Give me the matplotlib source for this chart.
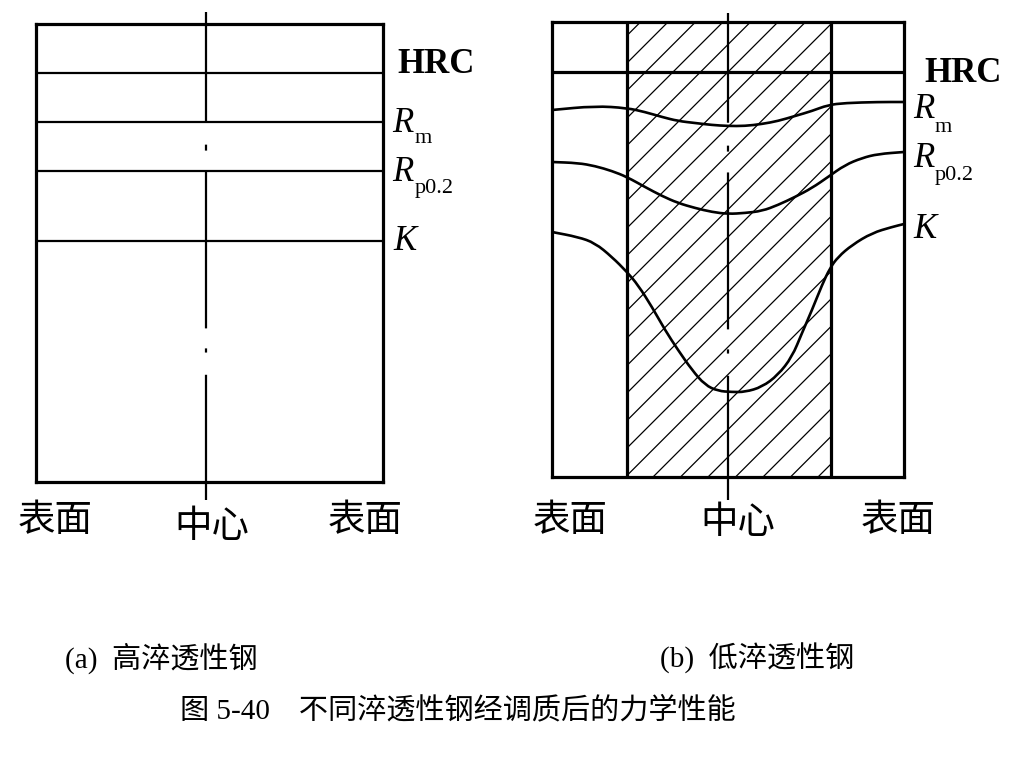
import matplotlib
matplotlib.use("Agg")
import matplotlib.pyplot as plt
from matplotlib.path import Path
from matplotlib.patches import PathPatch
import numpy as np

plt.rcParams['font.family'] = ['Liberation Serif', 'Noto Sans CJK SC']
plt.rcParams['lines.scale_dashes'] = False

# ---------------- data ----------------
# (a) high hardenability steel: flat property levels (relative units, 0 = box bottom)
left_labels = ['HRC', 'Rm', 'Rp0.2', 'K']
left_levels = [409, 360, 311, 241]

# (b) low hardenability steel: position across section (0 = centre) vs. relative level
right_hrc = 405
rm_x = [-176, -133, -101, -83, -66, -50, -33, -16, 0, 17, 34, 50, 67, 84, 100, 117, 150, 176]
rm_y = [367, 371, 369, 365, 360, 356, 354, 352, 351, 351, 353, 356, 361, 366, 372, 374, 375, 375]
rp_x = [-176, -150, -133, -116, -101, -83, -66, -50, -33, -16, 0, 17, 34, 50, 67, 84, 100, 117, 134, 150, 176]
rp_y = [315, 314, 311, 306, 300, 290, 281, 274, 269, 265, 263, 264, 266, 272, 280, 289, 300, 312, 319, 323, 325]
k_x = [-176, -150, -133, -116, -101, -90, -76, -63, -50, -36, -23, -10, 4, 17, 34, 50, 64, 74, 84, 94, 102, 110, 124, 144, 164, 176]
k_y = [245, 240, 234, 220, 205, 192, 170, 147, 127, 107, 92, 86, 85, 85, 90, 102, 120, 144, 167, 192, 209, 220, 232, 244, 250, 253]
core_left, core_right = -101, 103   # unhardened core zone (hatched)

pos_labels = ['表面', '中心', '表面']
sub_captions = ['(a)  高淬透性钢', '(b)  低淬透性钢']
fig_caption = '图 5-40    不同淬透性钢经调质后的力学性能'

# ---------------- figure ----------------
W, H = 1013, 780
fig = plt.figure(figsize=(W / 100, H / 100), dpi=100)

def make_ax(x0, x1, y0, y1):
    return fig.add_axes([x0 / W, (H - y1) / H, (x1 - x0) / W, (y1 - y0) / H])

axL = make_ax(36, 383, 24, 482)
axL.set_xlim(-170, 177)
axL.set_ylim(0, 458)
axR = make_ax(552, 904, 22, 477)
axR.set_xlim(-176, 176)
axR.set_ylim(0, 455)

for ax in (axL, axR):
    ax.set_xticks([])
    ax.set_yticks([])
    for s in ax.spines.values():
        s.set_linewidth(2.3)
        s.set_color('black')

# centre lines (chain line, extends past the box)
def centre_line(ax, top, bottom):
    dashes = (0, (79, 16.5, 4.3, 15, 113, 14.4, 3, 16, 200))
    ax.plot([0, 0], [top, bottom], color='black', lw=1.6, linestyle=dashes,
            clip_on=False, solid_capstyle='butt')

centre_line(axL, 470, -18)
centre_line(axR, 464, -23)

# (a) horizontal lines
for lvl in left_levels:
    axL.axhline(lvl, color='black', lw=1.6)

# (b) hatched core
hatch_sp = 27.5
for k in range(-8, 20):
    b = 75 + hatch_sp * k
    xa = max(core_left, -b)
    xb = min(core_right, 455 - b)
    if xb > xa:
        axR.plot([xa, xb], [xa + b, xb + b], color='black', lw=0.9)
for xv in (core_left, core_right):
    axR.axvline(xv, color='black', lw=2.3)

axR.axhline(right_hrc, color='black', lw=2.3)

def smooth_curve(ax, xs, ys, lw=1.9):
    pts = np.column_stack([xs, ys]).astype(float)
    mids = (pts[:-1] + pts[1:]) / 2
    verts = [pts[0], mids[0]]
    codes = [Path.MOVETO, Path.LINETO]
    for i in range(1, len(pts) - 1):
        verts += [pts[i], mids[i]]
        codes += [Path.CURVE3, Path.CURVE3]
    verts.append(pts[-1])
    codes.append(Path.LINETO)
    ax.add_patch(PathPatch(Path(verts, codes), fill=False, lw=lw,
                           edgecolor='black', capstyle='round', joinstyle='round'))

smooth_curve(axR, rm_x, rm_y)
smooth_curve(axR, rp_x, rp_y)
smooth_curve(axR, k_x, k_y)

# property labels (pixel positions)
def ptext(x, y, s, **kw):
    fig.text(x / W, 1 - y / H, s, **kw)

def prop_labels(hrc_xy, rm_xy, rp_xy, k_xy, sub_dx, rm_sub_dy, rp_sub_dy):
    ptext(*hrc_xy, 'HRC', fontsize=25, fontweight='bold', ha='left', va='baseline',
          family=['Liberation Serif'])
    ptext(*rm_xy, 'R', fontsize=25, style='italic', ha='left', va='baseline',
          family=['Liberation Serif'])
    ptext(rm_xy[0] + sub_dx, rm_xy[1] + rm_sub_dy, 'm', fontsize=16, ha='left', va='baseline',
          family=['Liberation Serif'])
    ptext(*rp_xy, 'R', fontsize=25, style='italic', ha='left', va='baseline',
          family=['Liberation Serif'])
    ptext(rp_xy[0] + sub_dx, rp_xy[1] + rp_sub_dy, 'p0.2', fontsize=16, ha='left', va='baseline',
          family=['Liberation Serif'])
    ptext(*k_xy, 'K', fontsize=25, style='italic', ha='left', va='baseline',
          family=['Liberation Serif'])

prop_labels((397, 73), (392, 132), (392, 181), (393, 250), 23, 11, 12)
prop_labels((924, 82), (913, 118), (913, 167), (913, 238), 22, 14, 13)

# position labels
def pos_text(ax, xs, ys):
    for lab, x, y in zip(pos_labels, xs, ys):
        ax.text(x, y, lab, fontsize=27, ha='center', va='center',
                family=['Noto Sans CJK SC'], clip_on=False)

pos_text(axL, [-151, 6, 159], [-38, -45, -38])
pos_text(axR, [-158, 10, 170], [-43, -46, -43])

# captions
ptext(65, 658, sub_captions[0], fontsize=21, ha='left', va='center')
ptext(660, 658, sub_captions[1], fontsize=21, ha='left', va='center')
ptext(180, 710, fig_caption, fontsize=21, ha='left', va='center')

fig.savefig('out.png', dpi=100)
